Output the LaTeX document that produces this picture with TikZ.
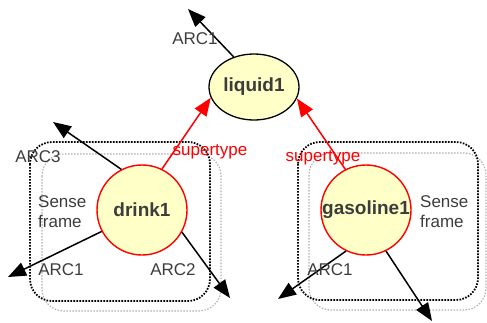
\documentclass[tikz,border=0pt]{standalone}
\usepackage{fontspec}
\setmainfont{Liberation Sans}
\usetikzlibrary{arrows.meta,shapes.geometric}
\definecolor{nodefill}{RGB}{255,255,200}
\definecolor{txtgray}{RGB}{60,60,60}
\definecolor{framegray}{RGB}{175,175,175}
\tikzset{
  concept/.style={circle,draw=red,line width=1.4pt,fill=nodefill,minimum size=90pt,inner sep=0pt,
    font=\fontsize{19}{19}\selectfont\bfseries,text=txtgray},
  topconcept/.style={ellipse,draw=black,line width=1.3pt,fill=nodefill,minimum width=90pt,minimum height=66pt,inner sep=0pt,
    font=\fontsize{19}{19}\selectfont\bfseries,text=txtgray},
  arcline/.style={draw=black,line width=1.5pt,-{Triangle[length=18pt,width=14pt]}},
  superline/.style={draw=red,line width=1.5pt,-{Triangle[length=18pt,width=14pt]}},
  arclabel/.style={font=\fontsize{17}{17}\selectfont,text=txtgray,inner sep=0pt},
  superlabel/.style={font=\fontsize{17}{17}\selectfont,text=red,inner sep=0pt},
  senselabel/.style={font=\fontsize{17}{20}\selectfont,text=txtgray,inner sep=0pt,align=left,anchor=west},
  blackframe/.style={draw=black,line width=1.8pt,dash pattern=on 1.6pt off 1.4pt,rounded corners=22pt},
  grayframe/.style={draw=framegray,line width=1.1pt,dash pattern=on 1.5pt off 1.5pt,rounded corners=22pt}
}
\begin{document}
\begin{tikzpicture}[x=1pt,y=-1pt]
\useasboundingbox (0,0) rectangle (487,322);
% frames
\draw[grayframe] (42,154) rectangle (221,311);
\draw[blackframe] (30,142) rectangle (210,301);
\draw[grayframe] (309,153) rectangle (486,310);
\draw[blackframe] (298,142) rectangle (478,300);
% nodes
\node[topconcept] (liquid) at (254,87) {liquid1};
\node[concept] (drink) at (142,210) {drink1};
\node[concept] (gasoline) at (366,210) {gasoline1};
% free ends
\coordinate (lq1) at (188,9);
\coordinate (dk3) at (53,122);
\coordinate (dk1) at (8,277);
\coordinate (dk2) at (230,298);
\coordinate (gs1) at (278,299);
\coordinate (gs2) at (432,321);
% connectors
\draw[arcline] (liquid.124) -- (lq1);
\draw[arcline] (drink.117) -- (dk3);
\draw[arcline] (drink.208) -- (dk1);
\draw[arcline] (drink.331) -- (dk2);
\draw[arcline] (gasoline.244) -- (gs1);
\draw[arcline] (gasoline.296) -- (gs2);
\draw[superline] (drink.64) -- (liquid.194);
\draw[superline] (gasoline.117) -- (liquid.345);
% labels
\node[arclabel] (lqarc1) at (195,39) {ARC1};
\node[arclabel] (dkarc3) at (38,157) {ARC3};
\node[arclabel] (dkarc1) at (61,270) {ARC1};
\node[arclabel] (dkarc2) at (173,270) {ARC2};
\node[arclabel] (gsarc1) at (330,270) {ARC1};
\node[superlabel] (sup1) at (210,152) {supertype};
\node[superlabel] (sup2) at (323,158) {supertype};
\node[senselabel] (sense1) at (38,212) {Sense\\frame};
\node[senselabel] (sense2) at (420,212) {Sense\\frame};
\end{tikzpicture}
\end{document}
